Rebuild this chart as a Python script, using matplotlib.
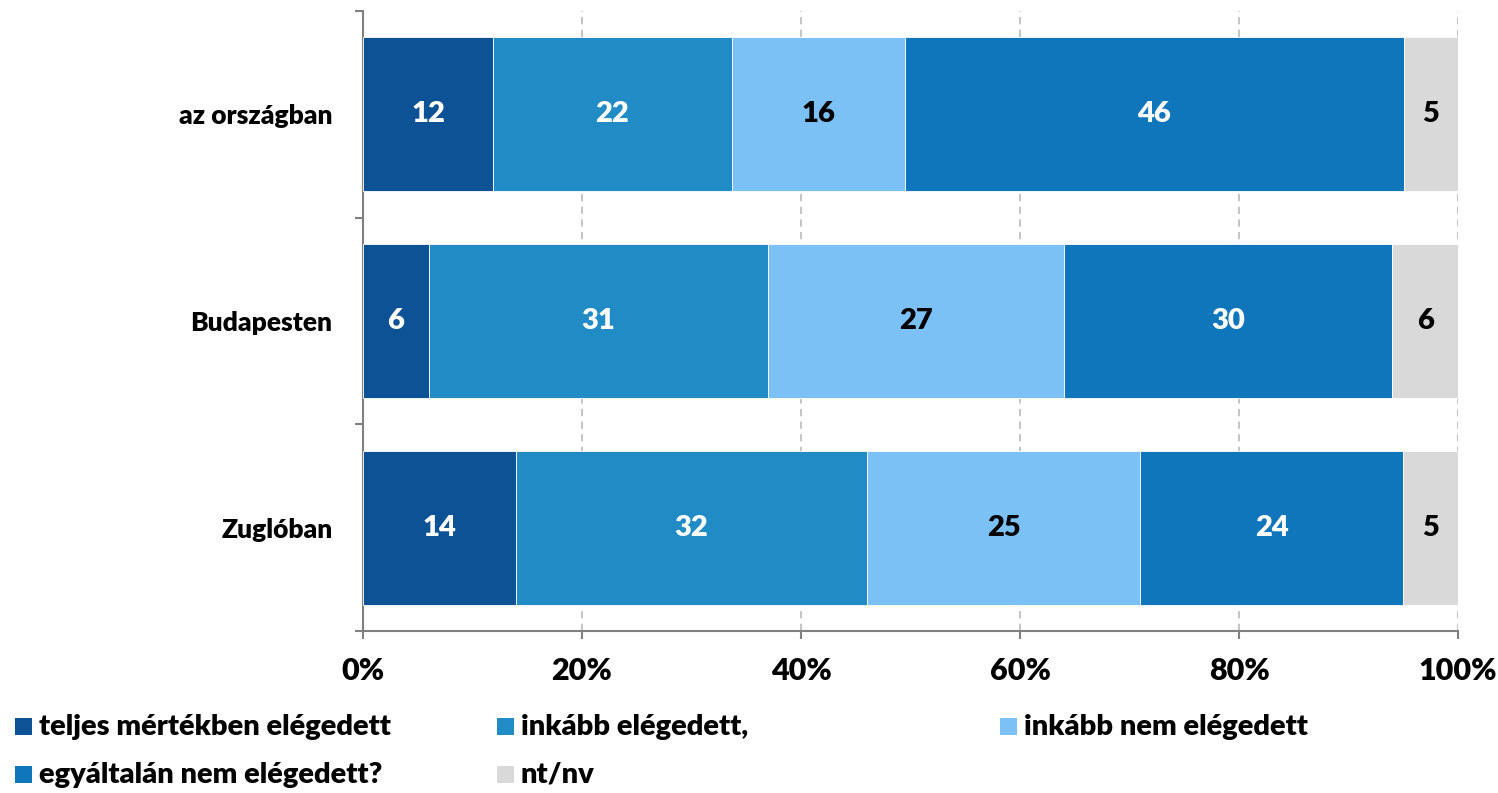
import matplotlib.pyplot as plt
import numpy as np
from matplotlib.patches import Rectangle

categories = ['az országban', 'Budapesten', 'Zuglóban']
series_names = ['teljes mértékben elégedett', 'inkább elégedett,', 'inkább nem elégedett',
                'egyáltalán nem elégedett?', 'nt/nv']
values = [
    [12, 6, 14],   # teljes mértékben elégedett
    [22, 31, 32],  # inkább elégedett
    [16, 27, 25],  # inkább nem elégedett
    [46, 30, 24],  # egyáltalán nem elégedett
    [5, 6, 5],     # nt/nv
]
x_ticks = [0, 20, 40, 60, 80, 100]

colors = ['#0D5294', '#218BC6', '#7BC1F5', '#1076BC', '#D9D9D9']
text_colors = ['white', 'white', 'black', 'white', 'black']

plt.rcParams['font.family'] = ['Lato', 'DejaVu Sans']
WT = 'heavy'
plt.rcParams['font.weight'] = WT

fig = plt.figure(figsize=(14.98, 7.93), dpi=100)
ax = fig.add_axes([363 / 1498, 162 / 793, 1095 / 1498, 620 / 793])

vals = np.array(values, dtype=float)
totals = vals.sum(axis=0)
pct = vals / totals * 100
y = np.arange(len(categories))
left = np.zeros(len(categories))

for i in range(len(series_names)):
    ax.barh(y, pct[i], left=left, height=0.745, color=colors[i],
            edgecolor='white', linewidth=0.6, zorder=3)
    for j in range(len(categories)):
        ax.text(left[j] + pct[i][j] / 2, y[j], str(values[i][j]),
                ha='center', va='center', fontsize=21, fontweight=WT,
                color=text_colors[i], zorder=4)
    left += pct[i]

ax.set_xlim(0, 100)
ax.set_ylim(2.5, -0.5)

# grid
for xv in x_ticks[1:]:
    ax.axvline(xv, color='#BFBFBF', linestyle=(0, (4, 3)), linewidth=1.3, zorder=1)

for s in ['top', 'right']:
    ax.spines[s].set_visible(False)
for s in ['left', 'bottom']:
    ax.spines[s].set_color('#808080')
    ax.spines[s].set_linewidth(1.5)

ax.set_xticks(x_ticks)
ax.set_xticklabels([f'{v}%' for v in x_ticks])
ax.tick_params(axis='x', length=6, width=1.5, color='#808080', labelsize=22, pad=13)

ax.set_yticks(y)
ax.set_yticklabels(categories)
ax.set_yticks([-0.5, 0.5, 1.5, 2.5], minor=True)
ax.tick_params(axis='y', which='major', length=0, labelsize=19, pad=22)
ax.tick_params(axis='y', which='minor', length=6, width=1.5, color='#808080')

# legend, laid out like the original (three fixed columns)
leg_pos = [(15, 727), (497, 727), (1000, 727), (15, 775), (497, 775)]
W, H = 1498, 793
for i, name in enumerate(series_names):
    px, py = leg_pos[i]
    fig.patches.append(Rectangle((px / W, 1 - (py + 8) / H), 17 / W, 17 / H,
                                 transform=fig.transFigure, facecolor=colors[i],
                                 edgecolor='none'))
    fig.text((px + 24) / W, 1 - py / H, name, ha='left', va='center',
             fontsize=21, fontweight=WT, color='black')

fig.savefig('out.png', dpi=100)
